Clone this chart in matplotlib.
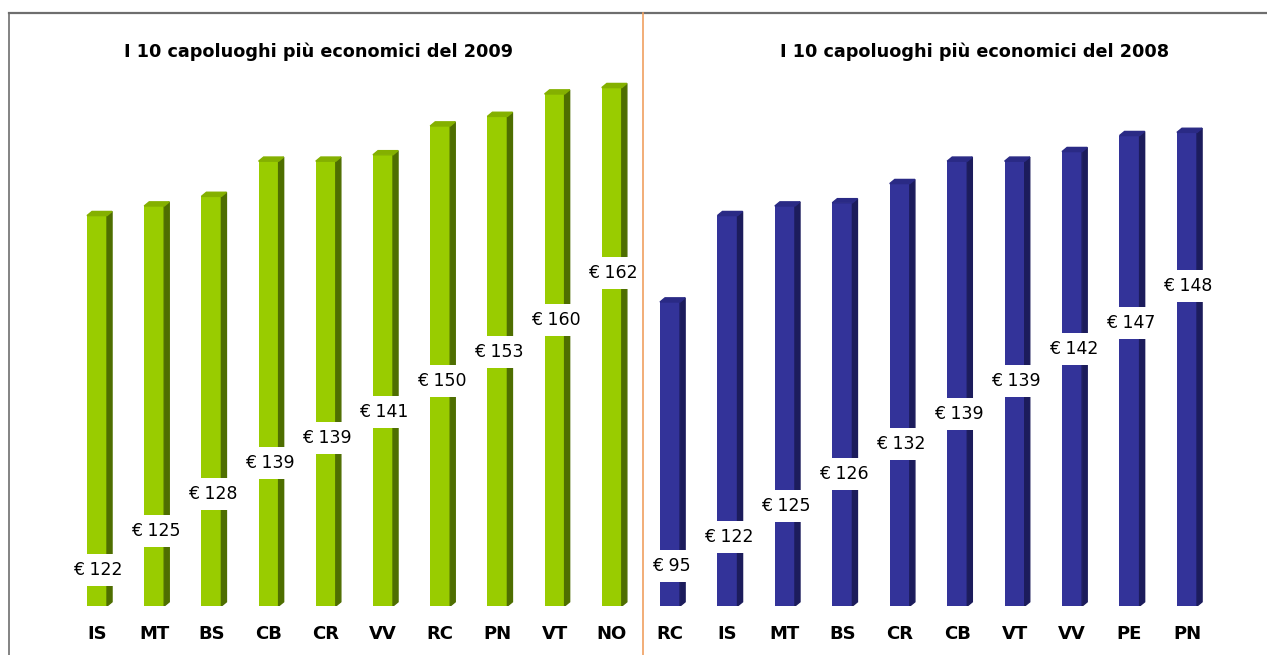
import numpy as np
import matplotlib.pyplot as plt
from matplotlib.patches import Polygon
from matplotlib.lines import Line2D

# data
cities_2009 = ["IS", "MT", "BS", "CB", "CR", "VV", "RC", "PN", "VT", "NO"]
costs_2009 = [122, 125, 128, 139, 139, 141, 150, 153, 160, 162]
label_pos_2009 = [11.3, 23.4, 35, 44.7, 52.5, 60.6, 70.3, 79.4, 89.4, 104]

cities_2008 = ["RC", "IS", "MT", "BS", "CR", "CB", "VT", "VV", "PE", "PN"]
costs_2008 = [95, 122, 125, 126, 132, 139, 139, 142, 147, 148]
label_pos_2008 = [12.5, 21.6, 31.2, 41.2, 50.6, 60, 70.3, 80.3, 88.4, 100]

title_2009 = "I 10 capoluoghi più economici del 2009"
title_2008 = "I 10 capoluoghi più economici del 2008"

# the source text is a wide-ish sans, DejaVu is closest in width
plt.rcParams["font.family"] = ["DejaVu Sans"]

W, H = 1267, 655
fig = plt.figure(figsize=(W / 100, H / 100), dpi=100)


def bars3d(ax, names, values, label_pos, front, side, top):
    x = np.arange(len(values))
    width = 0.35
    dx, dy = 0.088, 1.3  # depth of the fake 3d
    ax.bar(x, values, width=width, color=front, zorder=2)
    for xi, v in zip(x, values):
        r = xi + width / 2
        l = xi - width / 2
        ax.add_patch(Polygon([(r, 0), (r + dx, dy), (r + dx, v + dy), (r, v)],
                             closed=True, color=side, zorder=2))
        ax.add_patch(Polygon([(l, v), (l + dx, v + dy), (r + dx, v + dy), (r, v)],
                             closed=True, color=top, zorder=2))
    for xi, v, p in zip(x, values, label_pos):
        ax.text(xi + 0.02, p, f"€ {v}", ha="center", va="center", fontsize=12.5,
                zorder=3,
                bbox=dict(boxstyle="square,pad=0.4", fc="white", ec="none"))
    ax.set_xticks(x, names)
    ax.tick_params(axis="x", length=0, pad=13.5, labelsize=13)
    for t in ax.get_xticklabels():
        t.set_fontweight("bold")
    ax.set_yticks([])
    for s in ax.spines.values():
        s.set_visible(False)
    ax.set_xlim(-0.5, 9.5)
    ax.set_ylim(0, 546 / 3.2)
    ax.patch.set_alpha(0)


ax1 = fig.add_axes([68.4 / W, 49 / H, 572 / W, 546 / H])
bars3d(ax1, cities_2009, costs_2009, label_pos_2009, "#99cc00", "#4e6e00", "#84b000")

ax2 = fig.add_axes([641.3 / W, 49 / H, 574.4 / W, 546 / H])
bars3d(ax2, cities_2008, costs_2008, label_pos_2008, "#333399", "#1c1c5c", "#2a2a85")

fig.text(318 / W, 1 - 52 / H, title_2009, ha="center", va="center",
         fontsize=12.7, fontweight="bold")
fig.text(975 / W, 1 - 52 / H, title_2008, ha="center", va="center",
         fontsize=12.7, fontweight="bold")

# frame lines
fig.add_artist(Line2D([9 / W, 1], [1 - 13 / H, 1 - 13 / H], color="#6e6e6e", lw=1.6))
fig.add_artist(Line2D([9 / W, 9 / W], [0, 1 - 13 / H], color="#6e6e6e", lw=1.2))
fig.add_artist(Line2D([643 / W, 643 / W], [0, 1 - 13 / H], color="#f0a060", lw=1.2))

fig.savefig("out.png", dpi=100)
